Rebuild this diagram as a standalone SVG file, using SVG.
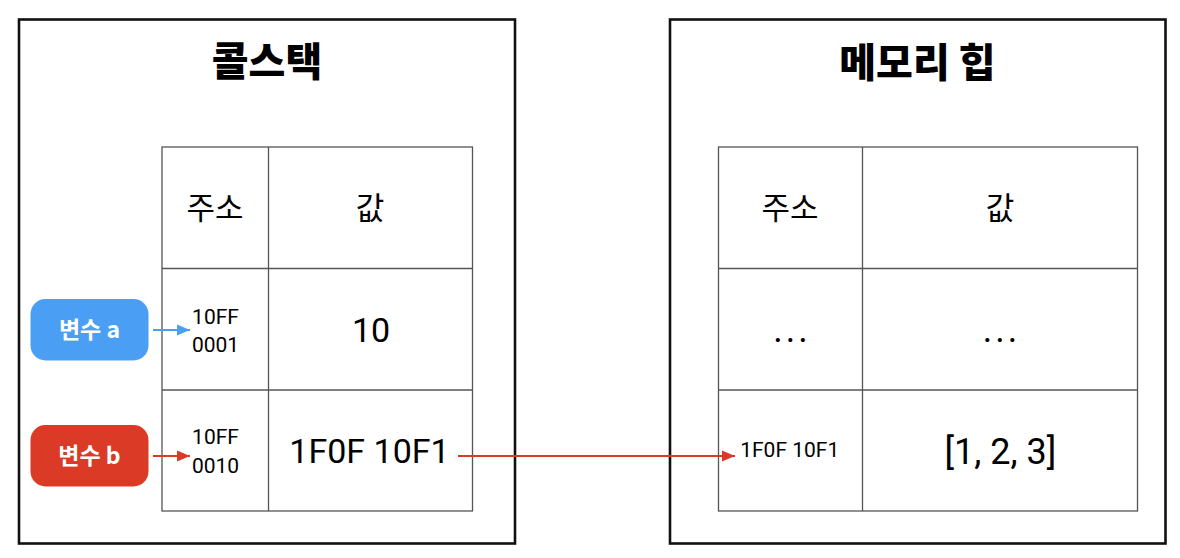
<svg xmlns="http://www.w3.org/2000/svg" width="1180" height="558" viewBox="0 0 1180 558">
<style>
.frame{fill:#fff;stroke:#111;stroke-width:2.6}
.grid{fill:none;stroke:#555;stroke-width:1.3}
.title{font-family:"Noto Sans CJK KR",sans-serif;font-weight:900;font-size:40px;fill:#000;text-anchor:middle}
.head{font-family:"Noto Sans CJK KR",sans-serif;font-weight:400;font-size:31px;fill:#000;text-anchor:middle}
.big{font-family:Roboto,"Noto Sans CJK KR",sans-serif;font-size:34px;fill:#000;text-anchor:middle}
.dots{font-family:Roboto,"Noto Sans CJK KR",sans-serif;font-size:36px;letter-spacing:3px;fill:#000;text-anchor:middle}
.small{font-family:Roboto,"Noto Sans CJK KR",sans-serif;font-size:21px;fill:#000;text-anchor:middle}
.var{font-family:"Noto Sans CJK KR",sans-serif;font-weight:700;font-size:23px;fill:#fff;text-anchor:middle}
</style>
<defs>
<marker id="ahBlue" markerUnits="userSpaceOnUse" markerWidth="14" markerHeight="12" viewBox="0 0 14 12" refX="13" refY="6" orient="auto">
<path d="M0,0.5 L13,6 L0,11.5 Z" fill="#4A9FF5"/>
</marker>
<marker id="ahRed" markerUnits="userSpaceOnUse" markerWidth="14" markerHeight="12" viewBox="0 0 14 12" refX="13" refY="6" orient="auto">
<path d="M0,0.5 L13,6 L0,11.5 Z" fill="#DB3B26"/>
</marker>
</defs>
<rect width="1180" height="558" fill="#fff"/>

<g id="callstack">
<rect class="frame" x="19" y="19.5" width="496" height="524"/>
<text class="title" x="267" y="76">콜스택</text>
<rect class="grid" x="162" y="147" width="310.5" height="364"/>
<line class="grid" x1="268.5" y1="147" x2="268.5" y2="511"/>
<line class="grid" x1="162" y1="268.5" x2="472.5" y2="268.5"/>
<line class="grid" x1="162" y1="390" x2="472.5" y2="390"/>
<text class="head" x="215" y="219">주소</text>
<text class="head" x="370" y="219">값</text>
<text class="small" x="215.5" y="323.5">10FF</text>
<text class="small" x="215.5" y="352">0001</text>
<text class="big" x="371" y="342">10</text>
<text class="small" x="215.5" y="443.5">10FF</text>
<text class="small" x="215.5" y="472.5">0010</text>
<text class="big" x="369.5" y="463">1F0F 10F1</text>
</g>

<g id="heap">
<rect class="frame" x="670" y="19.5" width="495.5" height="524"/>
<text class="title" x="917.5" y="77">메모리 힙</text>
<rect class="grid" x="718.5" y="147" width="419" height="364"/>
<line class="grid" x1="862.5" y1="147" x2="862.5" y2="511"/>
<line class="grid" x1="718.5" y1="268.5" x2="1137.5" y2="268.5"/>
<line class="grid" x1="718.5" y1="390" x2="1137.5" y2="390"/>
<text class="head" x="790" y="219">주소</text>
<text class="head" x="1000" y="219">값</text>
<text class="dots" x="792" y="342">...</text>
<text class="dots" x="1001.5" y="342">...</text>
<text class="small" x="789.7" y="457">1F0F 10F1</text>
<text class="big" x="1000.5" y="463.5" style="font-size:36px">[1, 2, 3]</text>
</g>

<g id="var-a">
<rect x="30.5" y="299" width="118" height="61.5" rx="15" fill="#4A9FF5"/>
<text class="var" x="89.5" y="338">변수 a</text>
</g>

<g id="var-b">
<rect x="30.5" y="425" width="118" height="61.5" rx="15" fill="#DB3B26"/>
<text class="var" x="89.5" y="463.5">변수 b</text>
</g>

<g id="connectors" fill="none" stroke-width="2">
<path d="M153,330 L190,330" stroke="#4A9FF5" marker-end="url(#ahBlue)"/>
<path d="M153,456 L190,456" stroke="#DB3B26" marker-end="url(#ahRed)"/>
<path d="M458,456 L735,456" stroke="#DB3B26" marker-end="url(#ahRed)"/>
</g>
</svg>
